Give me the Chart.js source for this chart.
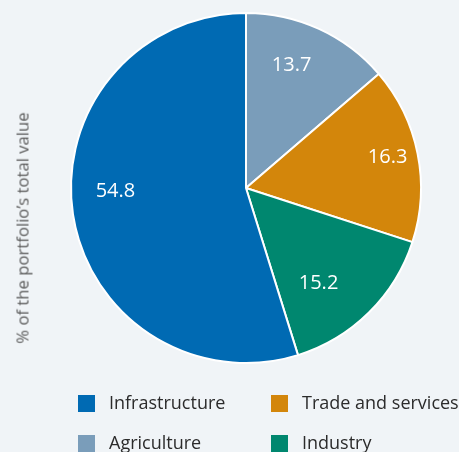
<!DOCTYPE html>
<html>
<head>
<meta charset="utf-8">
<script src="https://cdn.jsdelivr.net/npm/chart.js@4"></script>
<style>
	body { margin: 0; background: #f0f4f7; font-family: "Open Sans", "Noto Sans", sans-serif; }
	#wrap { position: relative; width: 459px; height: 452px; overflow: hidden; }
	#pie { position: absolute; left: 0; top: 0; }
	#ytitle {
		position: absolute; left: 22px; top: 228px;
		transform: translate(-50%, -50%) rotate(-90deg);
		white-space: nowrap; font-size: 16.7px; color: #5b5b5b;
	}
	.leg { position: absolute; white-space: nowrap; font-size: 18px; color: #2b2b2b; line-height: 20px; }
	.leg span { position: absolute; left: 0; top: 1px; width: 17px; height: 17px; }
	.leg b { font-weight: normal; position: absolute; left: 31px; top: -2px; }
</style>
</head>
<body>
<div id="wrap">
	<canvas id="pie" width="459" height="452"></canvas>
	<div id="ytitle">% of the portfolio’s total value</div>
	<div id="legend"></div>
</div>
<script>
// slices clockwise from 12 o'clock
var sectors = ["Agriculture", "Trade and services", "Industry", "Infrastructure"];
var shares = [13.7, 16.3, 15.2, 54.8];
var colours = ["#7a9dba", "#d3860b", "#00876f", "#006ab3"];
// legend reads row by row, two columns
var legendOrder = ["Infrastructure", "Trade and services", "Agriculture", "Industry"];

// value text inside each slice
var sliceLabels = {
	id: 'sliceLabels',
	afterDatasetsDraw: function(chart, args, opts) {
		var ctx = chart.ctx;
		var arcs = chart.getDatasetMeta(0).data;
		ctx.save();
		ctx.fillStyle = "#ffffff";
		ctx.font = "20px 'Open Sans', 'Noto Sans', sans-serif";
		ctx.textAlign = "center";
		ctx.textBaseline = "middle";
		arcs.forEach(function(arc, i) {
			var p = arc.getProps(['x', 'y', 'startAngle', 'endAngle', 'outerRadius'], true);
			var mid = (p.startAngle + p.endAngle) / 2;
			var r = p.outerRadius * 0.72;
			var nudge = opts.nudge[i] || [0, 0];
			ctx.fillText(shares[i].toFixed(1), p.x + Math.cos(mid) * r + nudge[0], p.y + Math.sin(mid) * r + nudge[1]);
		});
		ctx.restore();
	}
};

var pie = new Chart(document.getElementById("pie"), {
	type: 'pie',
	data: {
		labels: sectors,
		datasets: [{
			data: shares,
			backgroundColor: colours,
			borderColor: "#ffffff",
			borderWidth: 2
		}]
	},
	options: {
		responsive: false,
		animation: false,
		layout: {
			padding: { left: 70, right: 37, top: 12, bottom: 88 }
		},
		plugins: {
			legend: { display: false },
			tooltip: { enabled: false },
			sliceLabels: {
				nudge: [[-7, -8], [18, -6], [-16, 6], [-6, -16]]
			}
		}
	},
	plugins: [sliceLabels]
});

// html legend, two columns
var legend = document.getElementById("legend");
legendOrder.forEach(function(name, k) {
	var item = document.createElement("div");
	item.className = "leg";
	item.style.left = (k % 2 ? 271 : 78) + "px";
	item.style.top = (k < 2 ? 394 : 434) + "px";
	var box = document.createElement("span");
	box.style.background = colours[sectors.indexOf(name)];
	var txt = document.createElement("b");
	txt.textContent = name;
	item.appendChild(box);
	item.appendChild(txt);
	legend.appendChild(item);
});
</script>
</body>
</html>
